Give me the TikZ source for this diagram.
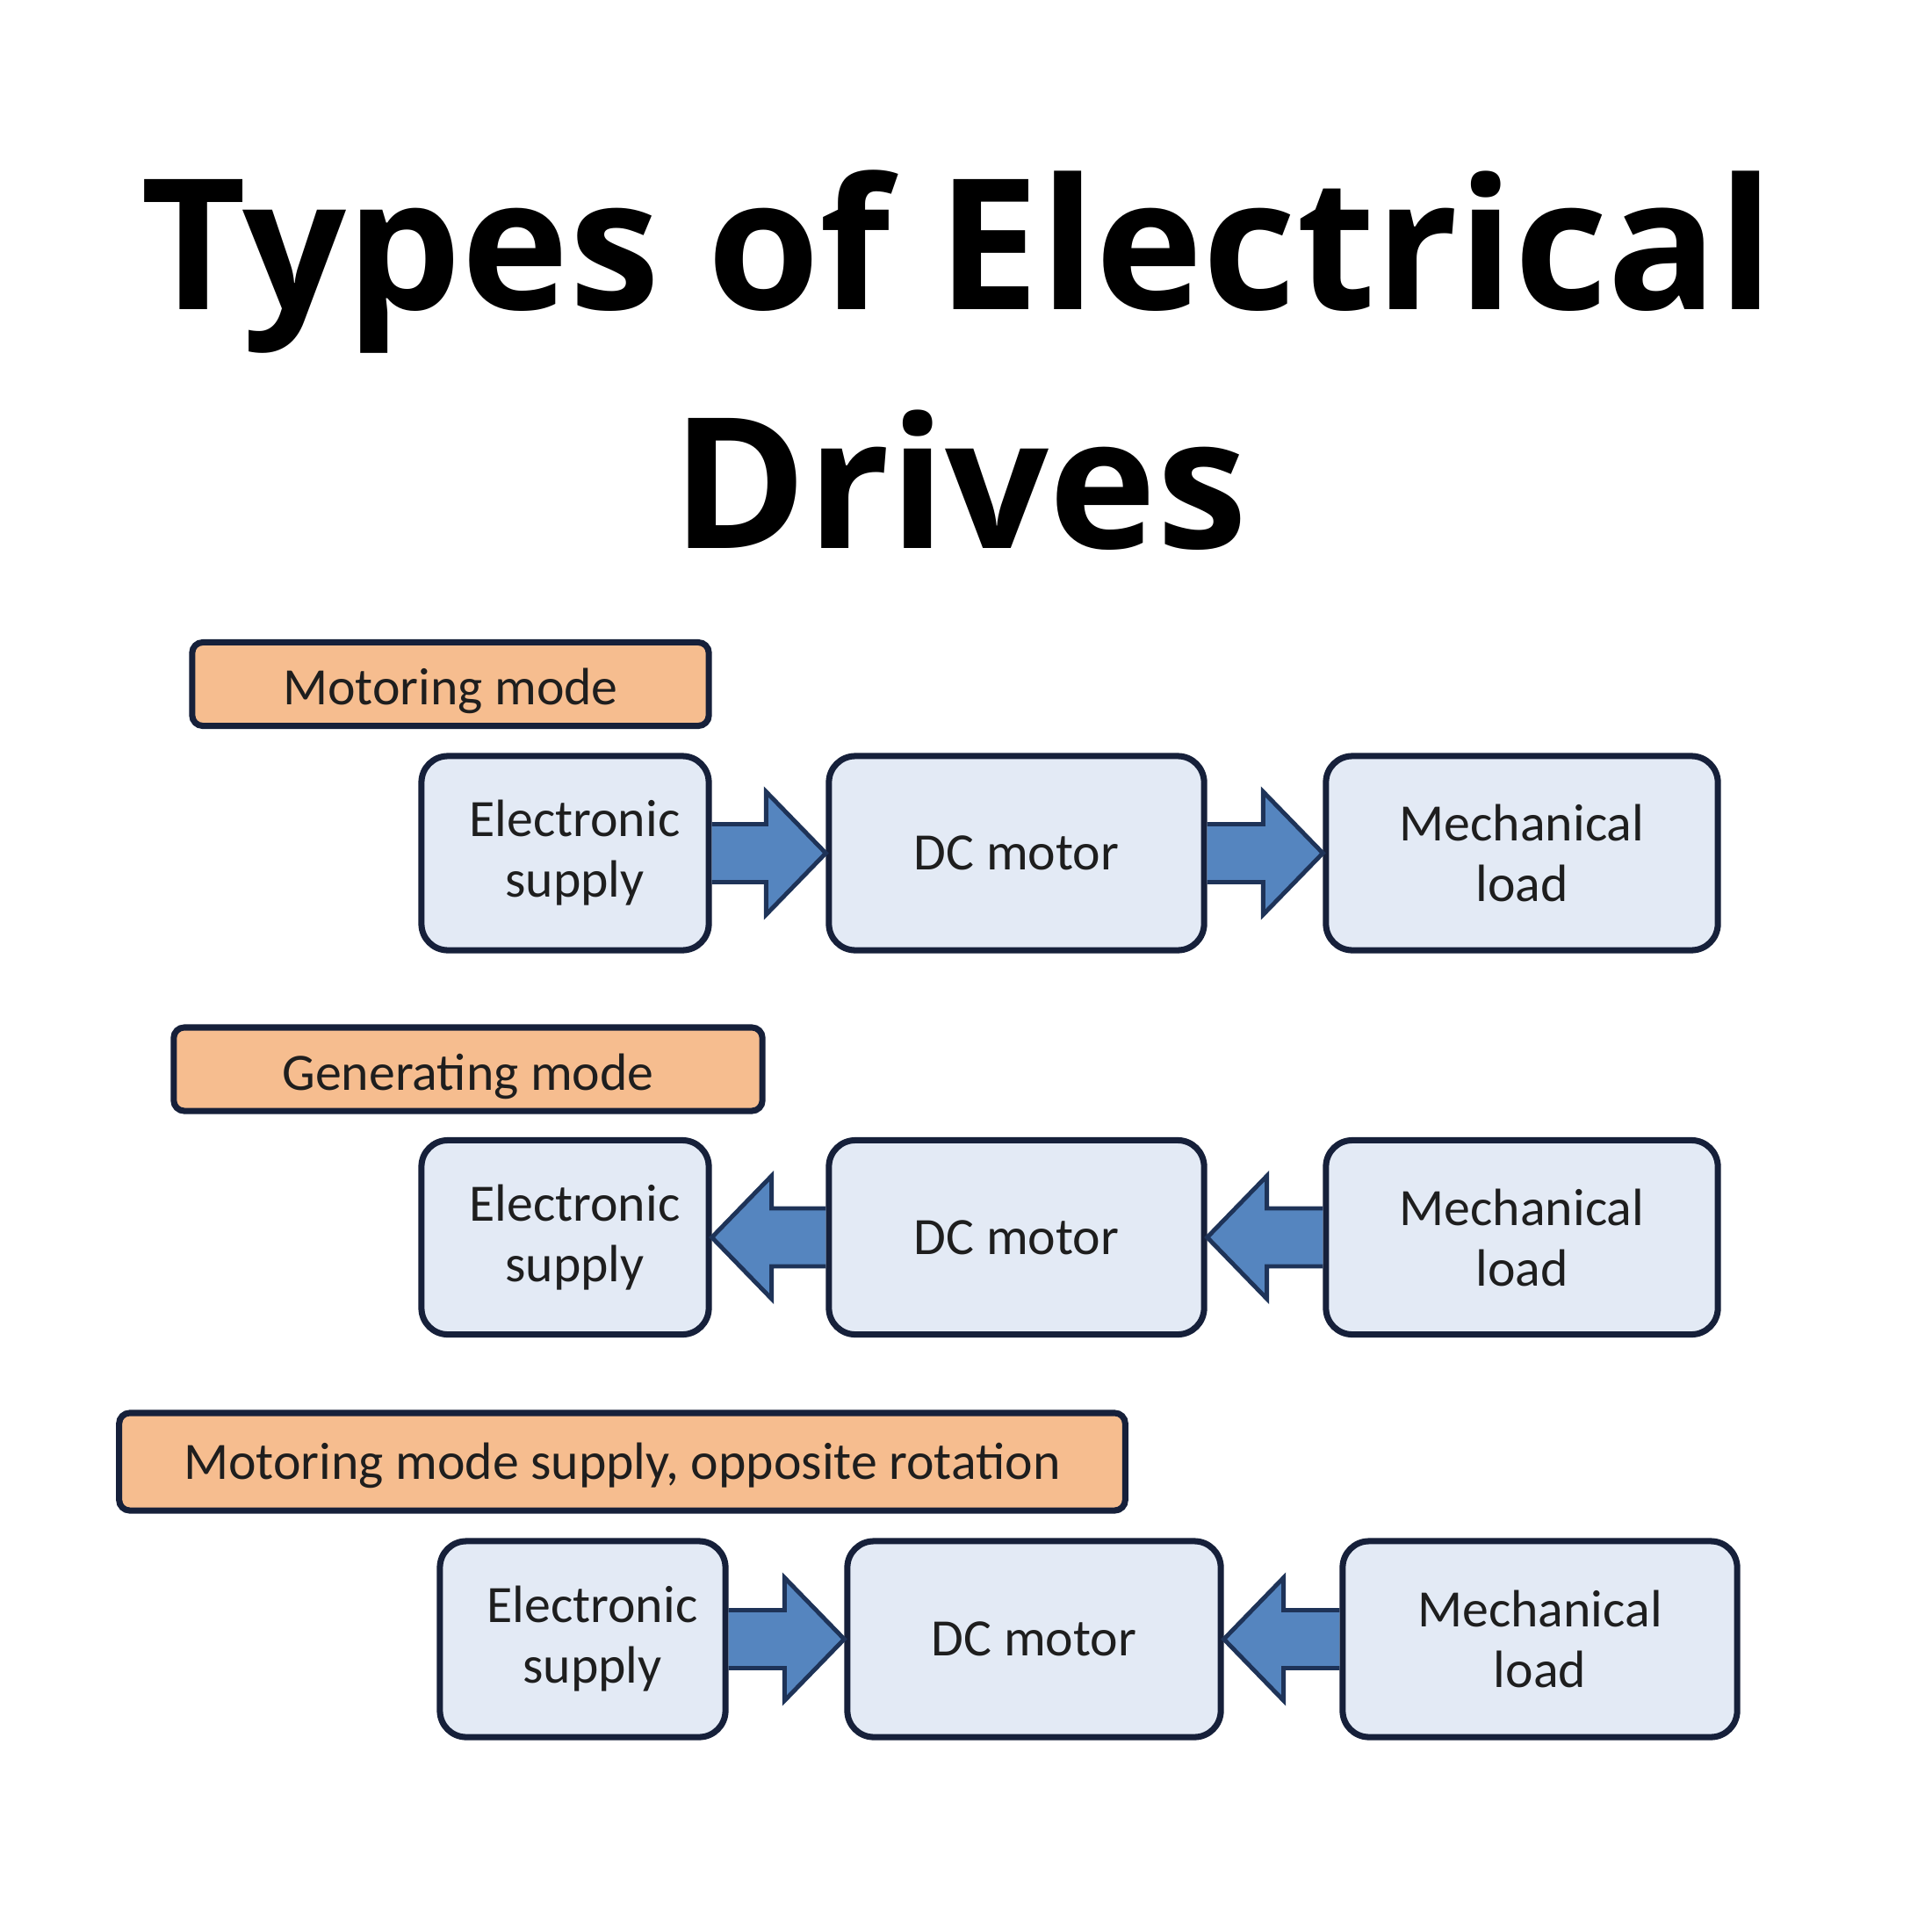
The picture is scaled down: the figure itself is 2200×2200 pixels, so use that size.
\documentclass[tikz,border=0pt]{standalone}
\usepackage{fontspec}
\setmainfont{Carlito}
\newfontfamily\titlefont{Open Sans}
\usetikzlibrary{calc}
\definecolor{navy}{HTML}{16203A}
\definecolor{orangefill}{HTML}{F6BD8F}
\definecolor{boxfill}{HTML}{E3EAF5}
\definecolor{arrowfill}{HTML}{5585BF}
\definecolor{arrowline}{HTML}{1E3358}
\definecolor{txt}{HTML}{1E1E1E}
\newcommand{\esline}[1]{\hspace*{0.22cm}#1}
\tikzset{
  modelabel/.style={draw=navy, line width=2pt, fill=orangefill, rounded corners=0.12cm,
    minimum height=0.95cm, text=txt, font=\fontsize{17}{20}\selectfont, inner sep=0pt,
    text height=17pt, text depth=3.5pt},
  blockbox/.style={draw=navy, line width=2pt, fill=boxfill, rounded corners=0.3cm,
    minimum height=2.21cm, align=center, text=txt, font=\fontsize{17}{19.6}\selectfont, inner sep=0pt},
  blockarrow/.style={fill=arrowfill, draw=arrowline, line width=1.4pt, line join=miter},
  titletext/.style={font=\titlefont\bfseries\fontsize{59}{70}\selectfont, anchor=base, inner sep=0pt}
}
\begin{document}
\begin{tikzpicture}[x=0.01cm, y=-0.01cm]
\useasboundingbox (0,0) rectangle (2200,2200);
\fill[white] (0,0) rectangle (2200,2200);

\node[titletext] (t1) at (1090,352) {Types of Electrical};
\node[titletext] (t2) at (1093,624) {Drives};

% Row 1: motoring mode
\node[modelabel, minimum width=5.88cm] (lab1) at (513,779) {Motoring mode};
\node[blockbox, minimum width=3.27cm] (es1) at (643.5,971.5) {\esline{Electronic}\\\esline{supply}};
\node[blockbox, minimum width=4.27cm] (dc1) at (1157.5,971.5) {DC motor};
\node[blockbox, minimum width=4.46cm] (ml1) at (1733,971.5) {Mechanical\\load};

% Row 2: generating mode
\node[modelabel, minimum width=6.70cm] (lab2) at (533,1217.5) {Generating mode};
\node[blockbox, minimum width=3.27cm] (es2) at (643.5,1409) {\esline{Electronic}\\\esline{supply}};
\node[blockbox, minimum width=4.27cm] (dc2) at (1157.5,1409) {DC motor};
\node[blockbox, minimum width=4.46cm] (ml2) at (1733,1409) {Mechanical\\load};

% Row 3
\node[modelabel, minimum width=11.45cm, minimum height=1.11cm, text height=15pt] (lab3) at (708.5,1664.5) {Motoring mode supply, opposite rotation};
\node[blockbox, minimum width=3.25cm, minimum height=2.23cm] (es3) at (663.5,1866.5) {\esline{Electronic}\\\esline{supply}};
\node[blockbox, minimum width=4.25cm, minimum height=2.23cm] (dc3) at (1177.5,1866.5) {DC motor};
\node[blockbox, minimum width=4.49cm, minimum height=2.23cm] (ml3) at (1753.5,1866.5) {Mechanical\\load};

% Right-pointing block arrows (from a to b)
\foreach \a/\b in {es1/dc1, dc1/ml1, es3/dc3} {
  \draw[blockarrow] ($(\a.east)+(0,-33)$) -- ($(\b.west)+(-68,-33)$) -- ($(\b.west)+(-68,-70)$)
    -- (\b.west) -- ($(\b.west)+(-68,70)$) -- ($(\b.west)+(-68,33)$) -- ($(\a.east)+(0,33)$);
}
% Left-pointing block arrows (from b to a)
\foreach \a/\b in {es2/dc2, dc2/ml2, dc3/ml3} {
  \draw[blockarrow] ($(\b.west)+(0,-33)$) -- ($(\a.east)+(68,-33)$) -- ($(\a.east)+(68,-70)$)
    -- (\a.east) -- ($(\a.east)+(68,70)$) -- ($(\a.east)+(68,33)$) -- ($(\b.west)+(0,33)$);
}
\end{tikzpicture}
\end{document}
